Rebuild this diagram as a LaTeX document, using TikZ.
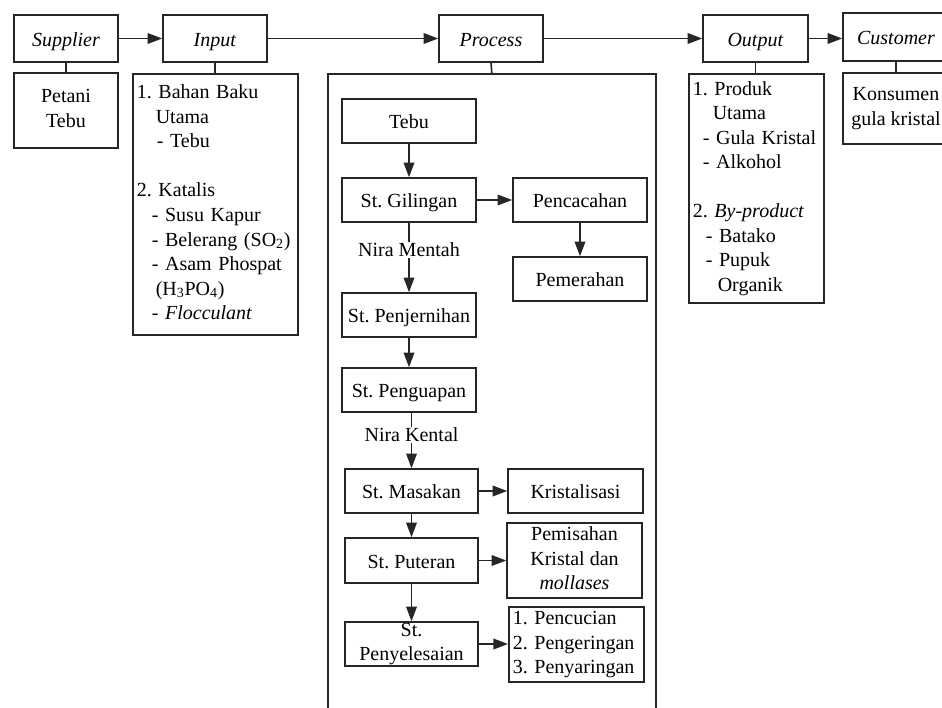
\documentclass[tikz,border=0pt]{standalone}
\usepackage{fontspec}
\setmainfont{Liberation Serif}
\usetikzlibrary{arrows.meta}
\newdimen\px \px=0.75pt
% strut that sits the text slightly lower in its box
\newcommand\lowstrut{\rule[-3.3pt]{0pt}{18.4pt}}
\frenchspacing
\begin{document}
\begin{tikzpicture}[x=\px,y=-\px,
  txt/.style={font=\fontsize{15}{18.4}\selectfont},
  frame/.style={draw=black!85, line width=1.2pt, inner sep=0pt, align=center, txt},
  box/.style={frame, execute at begin node=\lowstrut, execute at end node=\lowstrut},
  listbox/.style={frame, execute at begin node=\strut, execute at end node=\strut,
                  align=left, inner xsep=4\px, anchor=north west},
  link/.style={line width=1.2pt, draw=black!85},
  flow/.style={link, -{Triangle[length=11pt,width=8pt]}},
  lbl/.style={txt, fill=white, inner sep=1pt}]
\useasboundingbox (0,0) rectangle (942,707);
\clip (0,0) rectangle (942,707);
\fill[white] (0,0) rectangle (942,707);

% top row: SIPOC headers
\node[box, minimum width=104\px, minimum height=47\px] (sup) at (66,38.5) {\textit{Supplier}};
\node[box, minimum width=104\px, minimum height=47\px] (inp) at (215,38.5) {\textit{Input}};
\node[box, minimum width=104\px, minimum height=47\px] (proc) at (491,38.5) {\textit{Process}};
\node[box, minimum width=105\px, minimum height=47\px] (out) at (755.5,38.5) {\textit{Output}};
\node[box, minimum width=106\px, minimum height=48\px] (cust) at (896,37) {\textit{Customer}};

% detail boxes under the headers
\node[box, minimum width=104\px, minimum height=75\px] (petani) at (66,110.5) {Petani\\Tebu};
\node[listbox, text width=157\px, minimum height=261\px] (inlist) at (132,73)
  {1. Bahan Baku\\
   \hspace*{19\px}Utama\\
   \hspace*{20\px}- Tebu\\[18.4pt]
   2. Katalis\\
   \hspace*{15\px}- Susu Kapur\\
   \hspace*{15\px}- Belerang (SO\textsubscript{2})\\
   \hspace*{15\px}- Asam Phospat\\
   \hspace*{19\px}(H\textsubscript{3}PO\textsubscript{4})\\
   \hspace*{15\px}- \textit{Flocculant}};
\node[frame, anchor=north west, minimum width=328\px, minimum height=660\px] (pbig) at (327,73) {};
\node[listbox, text width=127\px, minimum height=229\px] (outlist) at (688,73)
  {1. Produk\\
   \hspace*{20\px}Utama\\
   \hspace*{10\px}- Gula Kristal\\
   \hspace*{10\px}- Alkohol\\[18.4pt]
   2. \textit{By-product}\\
   \hspace*{13\px}- Batako\\
   \hspace*{13\px}- Pupuk\\
   \hspace*{25\px}Organik};
\node[box, minimum width=106\px, minimum height=71\px] (kons) at (896,108.5) {Konsumen\\gula kristal};

% process steps
\node[box, minimum width=134\px, minimum height=44\px] (tebu) at (409,121) {Tebu};
\node[box, minimum width=134\px, minimum height=44\px] (gil) at (409,200) {St. Gilingan};
\node[box, minimum width=134\px, minimum height=44\px] (penc) at (580,200) {Pencacahan};
\node[box, minimum width=134\px, minimum height=44\px] (pemr) at (580,279) {Pemerahan};
\node[box, minimum width=134\px, minimum height=44\px] (penj) at (409,315) {St. Penjernihan};
\node[box, minimum width=134\px, minimum height=44\px] (peng) at (409,390) {St. Penguapan};
\node[box, minimum width=133\px, minimum height=44\px] (mas) at (411.5,491) {St. Masakan};
\node[box, minimum width=135\px, minimum height=44\px] (kris) at (575.5,491) {Kristalisasi};
\node[box, minimum width=133\px, minimum height=45\px] (put) at (411.5,560.5) {St. Puteran};
\node[box, minimum width=135\px, minimum height=75\px] (pemis) at (574.5,560.5) {Pemisahan\\Kristal dan\\\textit{mollases}};
\node[frame, minimum width=133\px, minimum height=44\px] (peny) at (411.5,644) {St.\\Penyelesaian};
\node[listbox, text width=127\px, minimum height=75\px] (fin) at (508,606)
  {1. Pencucian\\2. Pengeringan\\3. Penyaringan};

% header flow
\draw[flow] (sup.east) -- (inp.west);
\draw[flow] (inp.east) -- (proc.west);
\draw[flow] (proc.east) -- (out.west);
\draw[flow] (out.east) -- (out.east -| cust.west);

% header-to-detail links
\draw[link] (sup.south) -- (petani.north);
\draw[link] (inp.south) -- (inp.south |- inlist.north);
\draw[link] (proc.south) -- (pbig.north);
\draw[link] (out.south) -- (out.south |- outlist.north);
\draw[link] (cust.south) -- (kons.north);

% process flow
\draw[flow] (tebu.south) -- (gil.north);
\draw[flow] (gil.east) -- (penc.west);
\draw[flow] (penc.south) -- (pemr.north);
\draw[flow] (gil.south) -- node[lbl, pos=0.39] (nm) {Nira Mentah} (penj.north);
\draw[flow] (penj.south) -- (peng.north);
\draw[flow] (peng.south -| mas.north) -- node[lbl, pos=0.4] (nk) {Nira Kental} (mas.north);
\draw[flow] (mas.east) -- (kris.west);
\draw[flow] (mas.south) -- (put.north);
\draw[flow] (put.east) -- (pemis.west);
\draw[flow] (put.south) -- (peny.north);
\draw[flow] (peny.east) -- (peny.east -| fin.west);
\end{tikzpicture}
\end{document}
